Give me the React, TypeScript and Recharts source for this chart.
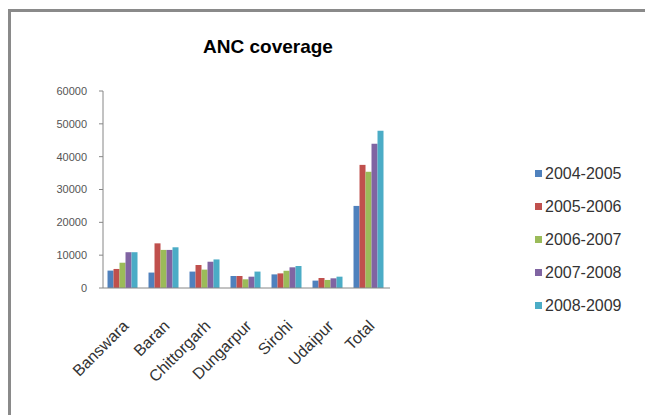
import { BarChart, Bar, XAxis, YAxis, Legend } from 'recharts';

const DISTRICTS = ['Banswara', 'Baran', 'Chittorgarh', 'Dungarpur', 'Sirohi', 'Udaipur', 'Total'];

const Y2004 = [5300, 4700, 5000, 3650, 4150, 2250, 25000];
const Y2005 = [5800, 13600, 7000, 3650, 4450, 3050, 37500];
const Y2006 = [7700, 11600, 5600, 2650, 5250, 2450, 35400];
const Y2007 = [10900, 11600, 8000, 3450, 6300, 2950, 43900];
const Y2008 = [10900, 12400, 8700, 5000, 6700, 3450, 47900];

const SERIES = [
  { key: 'y2004', label: '2004-2005', color: '#4F81BD', values: Y2004 },
  { key: 'y2005', label: '2005-2006', color: '#C0504D', values: Y2005 },
  { key: 'y2006', label: '2006-2007', color: '#9BBB59', values: Y2006 },
  { key: 'y2007', label: '2007-2008', color: '#8064A2', values: Y2007 },
  { key: 'y2008', label: '2008-2009', color: '#4BACC6', values: Y2008 },
];

const Y_TICKS = [0, 10000, 20000, 30000, 40000, 50000, 60000];

const chartData = DISTRICTS.map((name, i) => {
  const row: Record<string, string | number> = { name };
  SERIES.forEach((s) => {
    row[s.key] = s.values[i];
  });
  return row;
});

const FONT = '"Liberation Sans", Arial, sans-serif';

function DistrictTick({ x, y, payload }: any) {
  return (
    <text
      transform={`translate(${x + 6},${y + 31}) rotate(-45)`}
      textAnchor="end"
      fontSize={16}
      fontFamily={FONT}
      fill="#333"
    >
      {payload.value}
    </text>
  );
}

function LegendList() {
  return (
    <div style={{ fontFamily: FONT, fontSize: 16, color: '#333' }}>
      {SERIES.map((s) => (
        <div key={s.key} style={{ height: 33, display: 'flex', alignItems: 'center' }}>
          <span
            style={{ width: 7, height: 7, background: s.color, marginRight: 3, display: 'inline-block' }}
          />
          {s.label}
        </div>
      ))}
    </div>
  );
}

export default function App() {
  return (
    <>
      <style>{'html,body{overflow:hidden;background:#fff}'}</style>
      <div
        style={{
          position: 'absolute',
          left: 8,
          top: 9,
          width: 640,
          height: 410,
          borderTop: '3px solid #8a8a8a',
          borderLeft: '3px solid #8a8a8a',
          overflow: 'hidden',
          background: '#fff',
        }}
      >
        <div
          style={{
            position: 'absolute',
            left: 0,
            width: 514,
            top: 24,
            textAlign: 'center',
            fontFamily: FONT,
            fontWeight: 'bold',
            fontSize: 19,
            color: '#000',
          }}
        >
          ANC coverage
        </div>
        <BarChart
          width={634}
          height={395}
          data={chartData}
          margin={{ top: 79, right: 145, bottom: 39, left: 32 }}
          barCategoryGap="11%"
          barGap={0}
        >
          <XAxis
            dataKey="name"
            interval={0}
            height={80}
            stroke="#868686"
            tickLine={false}
            tick={<DistrictTick />}
          />
          <YAxis
            width={60}
            domain={[0, 60000]}
            ticks={Y_TICKS}
            stroke="#868686"
            tickSize={4}
            tickMargin={12}
            tick={{ fontSize: 11, fontFamily: FONT, fill: '#555' }}
          />
          <Legend
            layout="horizontal"
            verticalAlign="middle"
            align="right"
            content={<LegendList />}
            wrapperStyle={{ left: 524, top: 145, width: 110 }}
          />
          {SERIES.map((s) => (
            <Bar key={s.key} dataKey={s.key} name={s.label} fill={s.color} isAnimationActive={false} />
          ))}
        </BarChart>
      </div>
    </>
  );
}
